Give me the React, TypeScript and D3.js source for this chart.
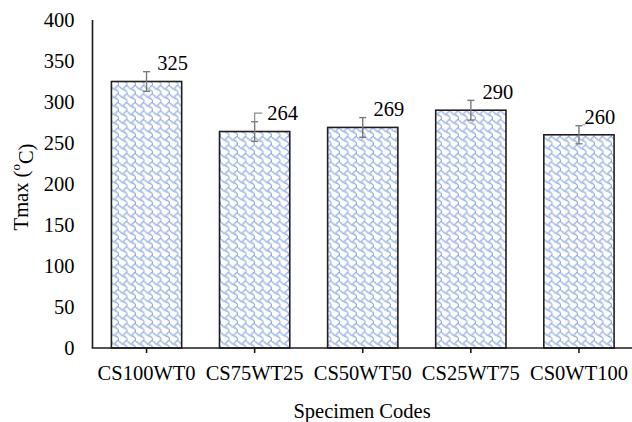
import React from "react";
import * as d3 from "d3";

const categories = ["CS100WT0", "CS75WT25", "CS50WT50", "CS25WT75", "CS0WT100"];
const tmaxValues = [325, 264, 269, 290, 260];
const errorValues = [12, 12, 12, 12, 11];
const yTicks = [0, 50, 100, 150, 200, 250, 300, 350, 400];

// label layout tweaks (pixel offsets from bar centre)
const labelDx = [26, 28, 26, 27, 21];

// Excel "shingle" 8x8 hatch bitmap
const shingleRows = [0x03, 0x84, 0x48, 0x30, 0x0c, 0x02, 0x01, 0x01];

const W = 632;
const H = 422;
const margin = { left: 92.5, right: 0, top: 20, bottom: 74 };
const FONT = "Liberation Serif, Times New Roman, Times, serif";

export default function App() {
  const x = d3
    .scaleBand<string>()
    .domain(categories)
    .range([margin.left, W - margin.right + 1])
    .paddingInner(0.35)
    .paddingOuter(0.175);
  const y = d3.scaleLinear().domain([0, 400]).range([H - margin.bottom, margin.top]);
  const band = d3.scaleBand<string>().domain(categories).range([margin.left, W + 1]);

  const pixels: { px: number; py: number }[] = [];
  shingleRows.forEach((row, r) => {
    for (let c = 0; c < 8; c++) {
      if (row & (0x80 >> c)) pixels.push({ px: c, py: r });
    }
  });

  const ts = { fontFamily: FONT, fontSize: "20.5px" } as React.CSSProperties;

  return (
    <svg
      width={W}
      height={H}
      style={{ position: "absolute", left: 0, top: 0, background: "#fff", fontFamily: FONT }}
    >
      <defs>
        <pattern id="shingle" width={8.5} height={8.5} patternUnits="userSpaceOnUse">
          <rect width={8.5} height={8.5} fill="#fff" />
          {pixels.map((p, i) => (
            <rect
              key={i}
              x={p.px * 1.0625}
              y={p.py * 1.0625}
              width={1.4}
              height={1.4}
              fill="#8faae0"
            />
          ))}
        </pattern>
      </defs>

      {/* bars */}
      {categories.map((c, i) => {
        const bx = x(c)!;
        const bw = x.bandwidth();
        return (
          <rect
            key={c}
            x={bx}
            y={y(tmaxValues[i])}
            width={bw}
            height={y(0) - y(tmaxValues[i])}
            fill="url(#shingle)"
            stroke="#1f1f1f"
            strokeWidth={1.6}
          />
        );
      })}

      {/* error bars */}
      {categories.map((c, i) => {
        const cx = x(c)! + x.bandwidth() / 2;
        const top = y(tmaxValues[i] + errorValues[i]);
        const bot = y(tmaxValues[i] - errorValues[i]);
        return (
          <g key={c} stroke="#7a7a7a" strokeWidth={1.4}>
            <line x1={cx} x2={cx} y1={top} y2={bot} />
            <line x1={cx - 3.5} x2={cx + 3.5} y1={top} y2={top} />
            <line x1={cx - 3.5} x2={cx + 3.5} y1={bot} y2={bot} />
          </g>
        );
      })}

      {/* leader lines */}
      {(() => {
        const c = categories[1];
        const cx = x(c)! + x.bandwidth() / 2;
        const top = y(tmaxValues[1] + errorValues[1]);
        return (
          <polyline
            points={`${cx},${top} ${cx},${top - 8.5} ${cx + 7.5},${top - 8.5}`}
            fill="none"
            stroke="#8c8c8c"
            strokeWidth={1.2}
          />
        );
      })()}
      {(() => {
        const c = categories[4];
        const cx = x(c)! + x.bandwidth() / 2;
        const top = y(tmaxValues[4] + errorValues[4]);
        return (
          <line x1={cx + 3.5} x2={cx + 6.5} y1={top - 1} y2={top - 1} stroke="#8c8c8c" strokeWidth={1} />
        );
      })()}

      {/* value labels */}
      {categories.map((c, i) => {
        const cx = x(c)! + x.bandwidth() / 2;
        const top = y(tmaxValues[i] + errorValues[i]);
        return (
          <text key={c} x={cx + labelDx[i]} y={top - 8.5} dy="0.35em" textAnchor="middle" style={ts} fill="#000">
            {tmaxValues[i]}
          </text>
        );
      })}

      {/* y axis */}
      <line x1={margin.left} x2={margin.left} y1={y(400)} y2={y(0)} stroke="#1a1a1a" strokeWidth={1.6} />
      {yTicks.map((t) => (
        <text key={t} x={74.5} y={y(t)} dy="0.35em" textAnchor="end" style={ts} fill="#000">
          {t}
        </text>
      ))}

      {/* x axis */}
      <line x1={margin.left - 0.8} x2={W} y1={y(0)} y2={y(0)} stroke="#1a1a1a" strokeWidth={1.6} />
      {categories.map((c) => {
        const cx = band(c)! + band.bandwidth() / 2;
        return (
          <g key={c}>
            <line x1={cx} x2={cx} y1={y(0)} y2={y(0) + 5} stroke="#1a1a1a" strokeWidth={1.6} />
            <text x={cx} y={373} dy="0.35em" textAnchor="middle" style={ts} fill="#000">
              {c}
            </text>
          </g>
        );
      })}

      {/* axis titles */}
      <text x={362} y={411} dy="0.35em" textAnchor="middle" style={ts} fill="#000">
        Specimen Codes
      </text>
      <text
        transform={`translate(21, ${(y(0) + y(400)) / 2 + 3}) rotate(-90)`}
        textAnchor="middle"
        dy="0.35em"
        style={ts}
        fill="#000"
      >
        Tmax (<tspan style={{ fontSize: "13px" }} dy="-0.6em">o</tspan>
        <tspan dy="0.6em">C)</tspan>
      </text>
    </svg>
  );
}
